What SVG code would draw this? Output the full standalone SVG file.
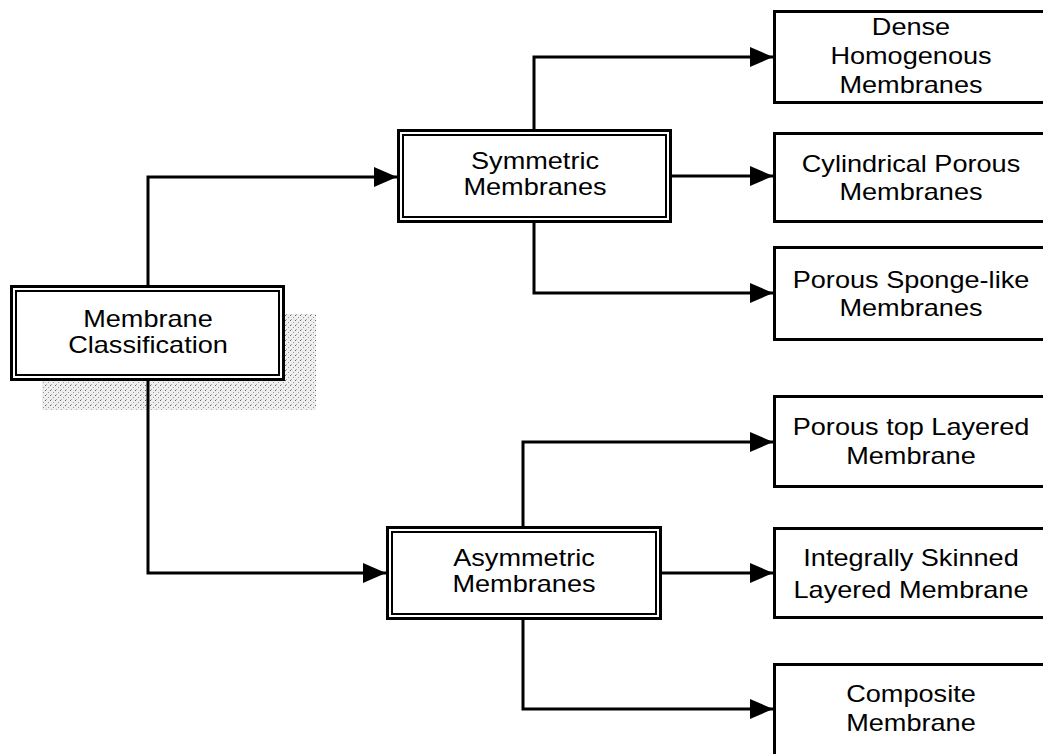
<svg xmlns="http://www.w3.org/2000/svg" width="1043" height="754" viewBox="0 0 1043 754">
  <style>
    .box { fill: #fff; stroke: #000; stroke-width: 3; }
    .inner { fill: none; stroke: #000; stroke-width: 2; }
    .conn { fill: none; stroke: #000; stroke-width: 3; }
    .lbl { font-family: "Liberation Sans", Arial, sans-serif; font-size: 24px; fill: #000; text-anchor: middle; }
  </style>
  <defs>
    <marker id="arrow" markerUnits="userSpaceOnUse" markerWidth="23" markerHeight="22" refX="23" refY="11" orient="auto">
      <polygon points="0,1 23,11 0,21" fill="#000"/>
    </marker>
    <pattern id="stipple" width="5" height="5" patternUnits="userSpaceOnUse">
      <rect width="5" height="5" fill="#eeeeee"/>
      <rect x="0" y="0" width="1" height="1" fill="#666"/>
      <rect x="3" y="2" width="1" height="1" fill="#999"/>
      <rect x="1" y="4" width="1" height="1" fill="#aaa"/>
    </pattern>
  </defs>
  <rect width="1043" height="754" fill="#fff"/>

  <g id="shadow">
    <rect x="285" y="314" width="31" height="96" fill="url(#stipple)"/>
    <rect x="42" y="381" width="274" height="29" fill="url(#stipple)"/>
  </g>

  <g id="connectors">
    <path class="conn" d="M148 285 V177 H397" marker-end="url(#arrow)"/>
    <path class="conn" d="M148 381 V573 H386" marker-end="url(#arrow)"/>
    <path class="conn" d="M534 129 V57 H773" marker-end="url(#arrow)"/>
    <path class="conn" d="M672 176 H773" marker-end="url(#arrow)"/>
    <path class="conn" d="M534 223 V293 H773" marker-end="url(#arrow)"/>
    <path class="conn" d="M523 526 V442 H773" marker-end="url(#arrow)"/>
    <path class="conn" d="M662 573 H773" marker-end="url(#arrow)"/>
    <path class="conn" d="M523 620 V709 H773" marker-end="url(#arrow)"/>
  </g>

  <g id="classification">
    <rect class="box" x="11.5" y="286.5" width="272" height="93"/>
    <rect class="inner" x="16" y="291" width="263" height="84"/>
    <g transform="translate(148,0) scale(1.13,1)">
      <text class="lbl" x="0" y="327">Membrane</text>
      <text class="lbl" x="0" y="353">Classification</text>
    </g>
  </g>

  <g id="symmetric">
    <rect class="box" x="398.5" y="130.5" width="272" height="91"/>
    <rect class="inner" x="403" y="135" width="263" height="82"/>
    <g transform="translate(535,0) scale(1.13,1)">
      <text class="lbl" x="0" y="169.5">Symmetric</text>
      <text class="lbl" x="0" y="195.5">Membranes</text>
    </g>
  </g>

  <g id="asymmetric">
    <rect class="box" x="387.5" y="527.5" width="273" height="91"/>
    <rect class="inner" x="392" y="532" width="264" height="82"/>
    <g transform="translate(524,0) scale(1.13,1)">
      <text class="lbl" x="0" y="566">Asymmetric</text>
      <text class="lbl" x="0" y="592">Membranes</text>
    </g>
  </g>

  <g id="dense">
    <rect class="box" x="774.5" y="11.5" width="300" height="91"/>
    <g transform="translate(911,0) scale(1.13,1)">
      <text class="lbl" x="0" y="35.5">Dense</text>
      <text class="lbl" x="0" y="64.5">Homogenous</text>
      <text class="lbl" x="0" y="93.5">Membranes</text>
    </g>
  </g>

  <g id="cylindrical">
    <rect class="box" x="774.5" y="133.5" width="300" height="88"/>
    <g transform="translate(911,0) scale(1.13,1)">
      <text class="lbl" x="0" y="172">Cylindrical Porous</text>
      <text class="lbl" x="0" y="200">Membranes</text>
    </g>
  </g>

  <g id="sponge">
    <rect class="box" x="774.5" y="247.5" width="300" height="92"/>
    <g transform="translate(911,0) scale(1.13,1)">
      <text class="lbl" x="0" y="288">Porous Sponge-like</text>
      <text class="lbl" x="0" y="316">Membranes</text>
    </g>
  </g>

  <g id="porous-top">
    <rect class="box" x="774.5" y="396.5" width="300" height="90"/>
    <g transform="translate(911,0) scale(1.13,1)">
      <text class="lbl" x="0" y="435">Porous top Layered</text>
      <text class="lbl" x="0" y="464">Membrane</text>
    </g>
  </g>

  <g id="integrally">
    <rect class="box" x="774.5" y="528.5" width="300" height="89"/>
    <g transform="translate(911,0) scale(1.13,1)">
      <text class="lbl" x="0" y="566">Integrally Skinned</text>
      <text class="lbl" x="0" y="598">Layered Membrane</text>
    </g>
  </g>

  <g id="composite">
    <rect class="box" x="774.5" y="664.5" width="300" height="200"/>
    <g transform="translate(911,0) scale(1.13,1)">
      <text class="lbl" x="0" y="702">Composite</text>
      <text class="lbl" x="0" y="731">Membrane</text>
    </g>
  </g>
</svg>
